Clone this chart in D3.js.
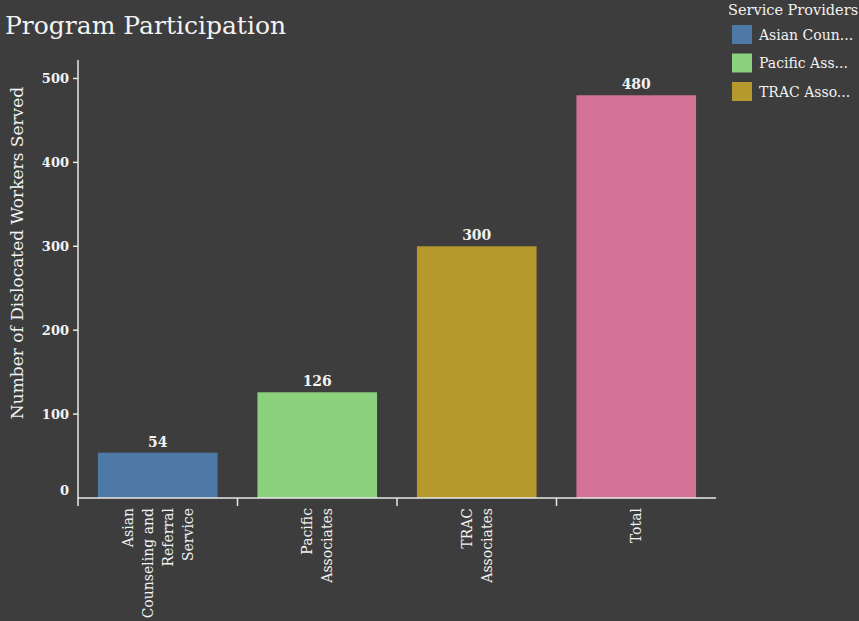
<!DOCTYPE html>
<html><head><meta charset="utf-8">
<script src="https://cdn.jsdelivr.net/npm/d3@7"></script>
<style>
html,body{margin:0;padding:0;background:#3d3d3d;}
svg{display:block;}
text{font-family:"DejaVu Serif","Liberation Serif",serif;fill:#f2f2f2;}
</style></head>
<body>
<svg id="chart" width="859" height="621"></svg>
<script>
const categories = ["Asian Counseling and Referral Service", "Pacific Associates", "TRAC Associates", "Total"];
const labelLines = [["Asian", "Counseling and", "Referral", "Service"], ["Pacific", "Associates"], ["TRAC", "Associates"], ["Total"]];
const values = [54, 126, 300, 480];
const colors = ["#4e79a7", "#8cd17d", "#b6992d", "#d37295"];
const yTicks = [0, 100, 200, 300, 400, 500];
const legendItems = ["Asian Coun...", "Pacific Ass...", "TRAC Asso..."];

const svg = d3.select("#chart");
const W = 859, H = 621;
svg.append("rect").attr("width", W).attr("height", H).attr("fill", "#3d3d3d");

const x0 = 78, x1 = 716, yBase = 498, yTop = 60;
const x = d3.scaleBand().domain(categories).range([x0, x1]).paddingInner(0.25).paddingOuter(0.125);
const y = d3.scaleLinear().domain([0, 522]).range([yBase, yTop]);

// title
svg.append("text").attr("x", 5).attr("y", 34).attr("font-size", 25).text("Program Participation");

// bars
svg.selectAll("rect.bar").data(categories).enter().append("rect")
  .attr("class", "bar")
  .attr("x", d => x(d)).attr("width", x.bandwidth())
  .attr("y", (d, i) => y(values[i])).attr("height", (d, i) => yBase - y(values[i]))
  .attr("fill", (d, i) => colors[i]);

// bar labels
svg.selectAll("text.val").data(categories).enter().append("text")
  .attr("class", "val")
  .attr("x", d => x(d) + x.bandwidth() / 2)
  .attr("y", (d, i) => y(values[i]) - 6)
  .attr("text-anchor", "middle").attr("font-size", 14).attr("font-weight", "bold")
  .text((d, i) => values[i]);

// y axis
const gy = svg.append("g");
gy.append("line").attr("x1", x0).attr("x2", x0).attr("y1", yTop).attr("y2", yBase).attr("stroke", "#e8e8e8").attr("stroke-width", 1.5);
yTicks.forEach(t => {
  if (t > 0) gy.append("line").attr("x1", x0 - 5).attr("x2", x0).attr("y1", y(t)).attr("y2", y(t)).attr("stroke", "#e8e8e8").attr("stroke-width", 1.5);
  gy.append("text").attr("x", x0 - 9).attr("y", y(t) - (t === 0 ? 8 : 0)).attr("dy", "0.35em")
    .attr("text-anchor", "end").attr("font-size", 13).attr("font-weight", "bold").text(t);
});
svg.append("text").attr("transform", `translate(23,253) rotate(-90)`)
  .attr("text-anchor", "middle").attr("font-size", 17).text("Number of Dislocated Workers Served");

// x axis
const gx = svg.append("g");
gx.append("line").attr("x1", x0).attr("x2", x1).attr("y1", yBase).attr("y2", yBase).attr("stroke", "#e8e8e8").attr("stroke-width", 1.5);
const step = x.step();
categories.forEach((c, i) => {
  const bx = x(c) - step * 0.125;
  gx.append("line").attr("x1", bx).attr("x2", bx).attr("y1", yBase).attr("y2", yBase + 8).attr("stroke", "#e8e8e8").attr("stroke-width", 1.5);
  const cx = x(c) + x.bandwidth() / 2;
  const lines = labelLines[i];
  const n = lines.length;
  const t = gx.append("text").attr("transform", `translate(${cx},${yBase + 10}) rotate(-90)`)
    .attr("text-anchor", "end").attr("font-size", 14);
  lines.forEach((l, k) => {
    t.append("tspan").attr("x", 0).attr("y", (k - (n - 1) / 2) * 20).attr("dy", "0.35em").text(l);
  });
});

// legend
svg.append("text").attr("x", 728).attr("y", 15).attr("font-size", 14.5).text("Service Providers");
legendItems.forEach((l, i) => {
  const yy = 25 + i * 28.5;
  svg.append("rect").attr("x", 732).attr("y", yy).attr("width", 20).attr("height", 19).attr("fill", colors[i]);
  svg.append("text").attr("x", 759).attr("y", yy + 10).attr("dy", "0.35em").attr("font-size", 14).text(l);
});
</script>
</body></html>
